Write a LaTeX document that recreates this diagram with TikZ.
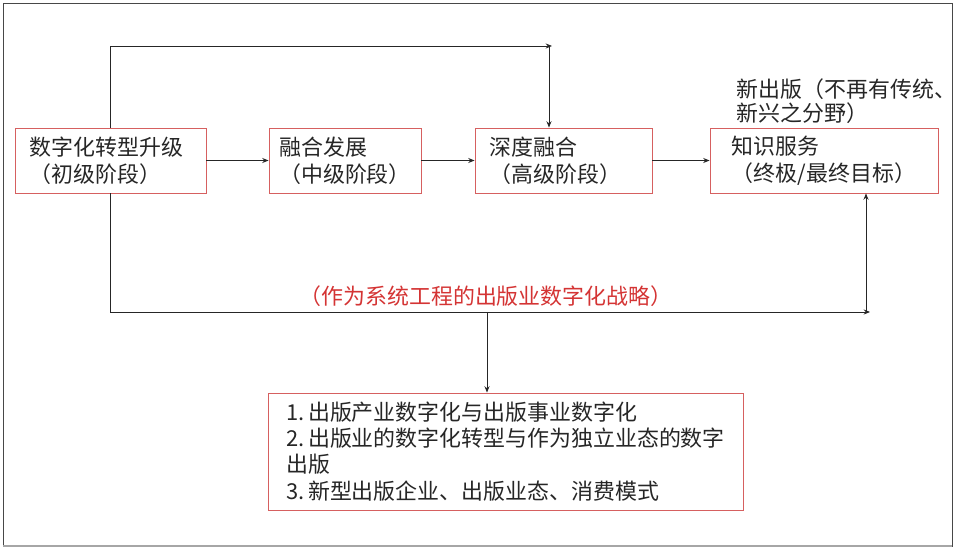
\documentclass[tikz,border=0pt]{standalone}
\usepackage{fontspec}
\setmainfont{Noto Sans CJK SC}
\usetikzlibrary{arrows.meta}
\definecolor{boxred}{RGB}{214,96,96}
\definecolor{labelred}{RGB}{212,52,52}
\definecolor{inkgray}{RGB}{38,38,38}
\tikzset{
  stage/.style={draw=boxred, line width=0.6pt, text=inkgray, align=left,
    minimum height=1.625cm, font=\fontsize{15.6pt}{19pt}\selectfont},
  arr/.style={draw=inkgray, line width=0.6pt, -{Stealth[length=4.5pt,width=3.6pt]}}
}
\begin{document}
\begin{tikzpicture}[x=0.025cm,y=-0.025cm]
\useasboundingbox (0,0) rectangle (956,550);
\draw[inkgray!85, line width=0.7pt] (3,3) rectangle (952,546);
\draw[gray!70, line width=1.6pt] (3,546) -- (952,546);
% the four stages
\node[stage, minimum width=4.775cm, text width=4.025cm] (primary) at (110.5,160.5) {数字化转型升级\\（初级阶段）};
\node[stage, minimum width=3.8cm] (merge) at (345,160.5) {融合发展\\（中级阶段）};
\node[stage, minimum width=4.425cm, text width=3.675cm] (deep) at (563.5,160.5) {深度融合\\（高级阶段）};
\node[stage, minimum width=5.7cm] (service) at (824,160.5) {知识服务\\（终极/最终目标）};
\node[stage, minimum width=11.875cm, minimum height=2.925cm, font=\fontsize{15.6pt}{18.6pt}\selectfont] (tasks) at (505.5,451.5)
  {\makebox[1em][l]{1.}出版产业数字化与出版事业数字化\\\makebox[1em][l]{2.}出版业的数字化转型与作为独立业态的数字\\出版\\\makebox[1em][l]{3.}新型出版企业、出版业态、消费模式};
\node[text=inkgray, align=left, anchor=west, font=\fontsize{15.6pt}{17pt}\selectfont] (newpub) at (732,101) {新出版（不再有传统、\\新兴之分野）};
\node[text=labelred, font=\fontsize{15.6pt}{19pt}\selectfont] (strategy) at (486,296) {（作为系统工程的出版业数字化战略）};
% connectors
\coordinate (toptip) at (552,46);
\coordinate (topjoin) at (549,46);
\coordinate (bottip) at (870,312);
\coordinate (botjoin) at (866,312);
\coordinate (midjoin) at (487,312);
\draw[arr] (primary) -- (merge);
\draw[arr] (merge) -- (deep);
\draw[arr] (deep) -- (service);
\draw[arr] (primary.north) |- (toptip);
\draw[arr] (topjoin) -- (topjoin |- deep.north);
\draw[arr] (primary.south) |- (bottip);
\draw[arr] (botjoin) -- (botjoin |- service.south);
\draw[arr] (midjoin) -- (midjoin |- tasks.north);
\end{tikzpicture}
\end{document}
